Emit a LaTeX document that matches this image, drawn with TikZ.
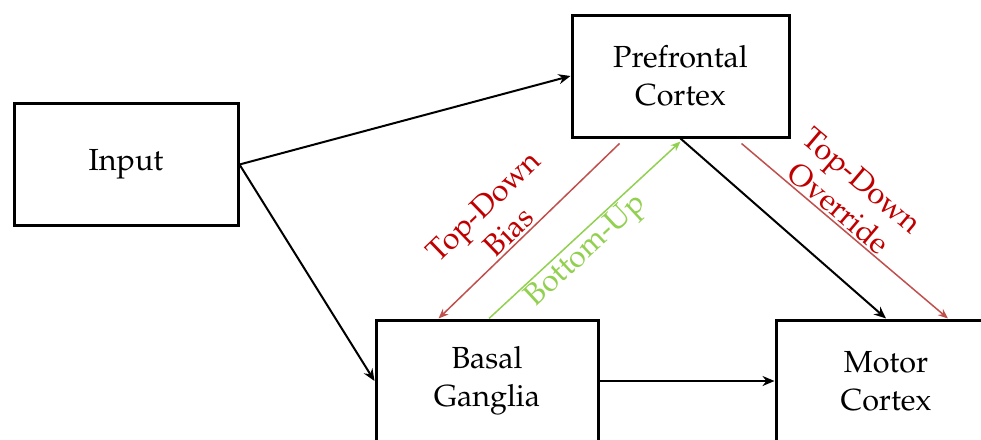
\documentclass[tikz,border=0pt]{standalone}
\usepackage[T1]{fontenc}
\usepackage{mathpazo}
\usepackage{tikz}
\usetikzlibrary{arrows, arrows.meta, positioning}
\definecolor{tdred}{HTML}{C00000}
\definecolor{tdline}{HTML}{C0504D}
\definecolor{bugreen}{HTML}{92D050}
\tikzstyle{area} = [rectangle, minimum width=222pt, minimum height=122pt, text centered, align=center, draw=black, line width=3pt, font=\fontsize{30.5}{38}\selectfont]
\tikzstyle{arrow} = [line width=2pt,-{Stealth[length=12pt,width=10pt]}]
\tikzstyle{signal} = [line width=1.5pt,-{Stealth[length=10pt,width=8pt]}]
\tikzstyle{tag} = [align=center, sloped, font=\fontsize{30.5}{36}\selectfont, inner sep=2pt]

\begin{document}
\begin{tikzpicture}
\useasboundingbox (0,0) rectangle (981pt,-439pt);
\clip (0,0) rectangle (981pt,-439pt);
\node (inp) [area, minimum width=224pt] at (126pt,-164.5pt) {Input};
\node (pfc) [area, minimum width=217pt, right=331pt of inp, yshift=88.5pt] {Prefrontal\\Cortex};
\node (bg) [area, right=135pt of inp, yshift=-216.5pt] {Basal\\Ganglia};
\node (mc) [area, minimum width=220pt, right=175pt of bg] {Motor\\Cortex};
\draw [arrow] (inp.east) -- (pfc.west);
\draw [arrow] (inp.east) -- (bg.west);
\draw [arrow] (bg.east) -- (mc.west);
\draw [arrow] (pfc.south) -- (mc.north);
% top-down and bottom-up signals
\draw [signal, tdline] ([xshift=49pt,yshift=-5pt]pfc.south west) -- node[tag, above, text=tdred, pos=0.56] {Top-Down\\Bias} ([xshift=64pt]bg.north west);
\draw [signal, bugreen] ([xshift=2pt]bg.north) -- node[tag, below, pos=0.45] {Bottom-Up} ([yshift=-3pt]pfc.south);
\draw [signal, tdline] ([xshift=-49pt,yshift=-5pt]pfc.south east) -- node[tag, above, text=tdred, pos=0.43] {Top-Down\\Override} ([xshift=62pt]mc.north);
\end{tikzpicture}
\end{document}
